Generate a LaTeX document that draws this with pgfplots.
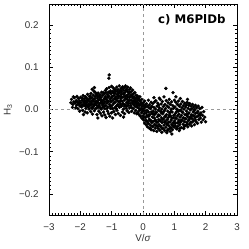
\documentclass[border=0pt]{standalone}
\usepackage{pgfplots}
\pgfplotsset{compat=1.18}
\usepackage{fontspec}
\setmainfont{Liberation Sans}
\newfontfamily\titlefont{DejaVu Sans}
\begin{document}
\begin{tikzpicture}
\begin{axis}[
  name=ax,
  scale only axis, width=188pt, height=211pt,
  xmin=-3, xmax=3, ymin=-0.25, ymax=0.25,
  xtick={-3,-2,-1,0,1,2,3},
  xticklabels={−3,−2,−1,0,1,2,3},
  ytick={-0.2,-0.1,0,0.1,0.2},
  yticklabels={−0.2,−0.1,0.0,0.1,0.2},
  minor x tick num=9, minor y tick num=9,
  major tick length=4pt, minor tick length=2pt,
  tick style={black, line width=0.5pt},
  axis line style={black, line width=0.8pt},
  tick label style={font=\fontsize{9.8}{10}\selectfont, text=black!80},
  xticklabel style={yshift=-5pt},
  yticklabel style={xshift=-7pt},
  xlabel={V/\textit{σ}}, ylabel={H\textsubscript{3}},
  label style={font=\fontsize{9.8}{10}\selectfont, text=black!80},
  xlabel style={at={(axis description cs:0.5,-0.109)}, anchor=center},
  ylabel style={at={(axis description cs:-0.218,0.5)}, anchor=center},
  clip=true,
]
\addplot[gray!80, dashed, line width=0.6pt] coordinates {(-3,0) (3,0)};
\addplot[gray!80, dashed, line width=0.6pt] coordinates {(0,-0.25) (0,0.25)};
\addplot[only marks, mark=*, mark size=1.5pt, black] coordinates {
(-2.28,0.024) (-2.24,0.012) (-2.21,0.018) (-2.25,0.005) (-2.30,0.016) (-2.22,0.030)
(-2.19,0.028) (-2.17,0.015) (-2.15,0.004) (-2.13,0.021) (-2.12,0.010) (-2.11,0.031)
(-2.09,0.017) (-2.08,0.002) (-2.06,0.026) (-2.05,0.012) (-2.03,0.020) (-2.02,-0.004) (-2.01,0.008)
(-1.99,0.029) (-1.98,0.016) (-1.96,0.006) (-1.95,0.022) (-1.93,0.011) (-1.92,-0.002) (-1.91,0.033) (-1.90,0.018)
(-1.89,0.009) (-1.88,0.025) (-1.86,0.014) (-1.85,-0.006) (-1.84,0.030) (-1.83,0.020) (-1.82,0.003) (-1.81,0.012) (-1.80,0.027)
(-1.79,0.017) (-1.78,-0.008) (-1.77,0.036) (-1.76,0.008) (-1.75,0.024) (-1.73,0.013) (-1.72,0.001) (-1.71,0.031) (-1.70,0.019)
(-1.69,0.010) (-1.68,0.026) (-1.67,-0.005) (-1.66,0.038) (-1.65,0.016) (-1.64,0.004) (-1.63,0.028) (-1.62,0.021) (-1.61,-0.011) (-1.60,0.012)
(-1.59,0.034) (-1.58,0.007) (-1.57,0.019) (-1.56,0.043) (-1.55,-0.003) (-1.54,0.025) (-1.53,0.014) (-1.52,0.031) (-1.51,0.002) (-1.50,0.020)
(-1.49,0.036) (-1.48,0.010) (-1.47,-0.012) (-1.46,0.027) (-1.45,0.017) (-1.44,0.005) (-1.43,0.039) (-1.42,0.022) (-1.41,-0.004) (-1.40,0.013) (-1.40,0.030)
(-1.39,0.008) (-1.38,0.024) (-1.37,0.035) (-1.36,-0.009) (-1.35,0.016) (-1.34,0.028) (-1.33,0.001) (-1.32,0.041) (-1.31,0.019) (-1.31,-0.015) (-1.30,0.011)
(-1.29,0.033) (-1.28,0.006) (-1.27,0.022) (-1.26,-0.006) (-1.25,0.014) (-1.24,0.037) (-1.23,0.026) (-1.22,-0.013) (-1.22,0.002) (-1.21,0.018) (-1.20,0.045) (-1.20,0.030)
(-1.19,0.009) (-1.18,-0.019) (-1.17,0.024) (-1.16,0.049) (-1.15,0.015) (-1.14,0.035) (-1.13,-0.004) (-1.12,0.029) (-1.12,0.006) (-1.11,0.041) (-1.10,0.019) (-1.10,-0.010)
(-1.08,0.082) (-1.09,0.074) (-1.62,0.048) (-1.55,0.052) (-1.44,-0.020) (-1.90,-0.012) (-0.62,-0.018)
(-1.09,0.032) (-1.08,0.052) (-1.07,0.012) (-1.06,-0.016) (-1.05,0.025) (-1.04,0.044) (-1.03,0.003) (-1.02,0.037) (-1.02,0.018) (-1.01,-0.008) (-1.00,0.055) (-1.00,0.028)
(-0.99,0.009) (-0.98,0.042) (-0.97,-0.020) (-0.96,0.022) (-0.95,0.051) (-0.94,0.014) (-0.93,0.033) (-0.93,-0.005) (-0.92,0.046) (-0.91,0.026) (-0.90,0.004) (-0.90,0.038)
(-0.89,0.017) (-0.88,-0.012) (-0.87,0.043) (-0.86,0.030) (-0.85,0.008) (-0.84,0.053) (-0.83,0.021) (-0.83,-0.002) (-0.82,0.036) (-0.81,0.012) (-0.80,0.047) (-0.80,0.027)
(-0.79,-0.009) (-0.78,0.039) (-0.77,0.018) (-0.76,0.056) (-0.75,0.005) (-0.74,0.031) (-0.73,0.045) (-0.73,0.013) (-0.72,-0.014) (-0.71,0.025) (-0.70,0.050) (-0.70,0.036)
(-0.69,0.008) (-0.68,0.042) (-0.67,0.020) (-0.66,-0.006) (-0.65,0.054) (-0.64,0.029) (-0.63,0.014) (-0.63,0.046) (-0.62,0.001) (-0.61,0.035) (-0.60,0.022) (-0.60,0.052)
(-0.59,-0.010) (-0.58,0.040) (-0.57,0.011) (-0.56,0.056) (-0.55,0.026) (-0.54,0.003) (-0.53,0.048) (-0.53,0.033) (-0.52,0.017) (-0.51,-0.003) (-0.50,0.043) (-0.50,0.024)
(-0.49,0.053) (-0.48,0.009) (-0.47,0.036) (-0.46,0.020) (-0.45,-0.007) (-0.44,0.047) (-0.43,0.028) (-0.43,0.004) (-0.42,0.040) (-0.41,0.015) (-0.40,0.051) (-0.40,0.031)
(-0.39,0.010) (-0.38,0.042) (-0.37,0.022) (-0.36,-0.004) (-0.35,0.035) (-0.34,0.016) (-0.33,0.046) (-0.32,0.027) (-0.31,0.002) (-0.30,0.038) (-0.30,0.012)
(-0.29,0.030) (-0.28,-0.008) (-0.27,0.019) (-0.26,0.040) (-0.25,0.007) (-0.24,0.025) (-0.23,-0.002) (-0.22,0.034) (-0.21,0.014) (-0.20,0.028) (-0.20,-0.010)
(-0.19,0.020) (-0.18,0.005) (-0.17,0.032) (-0.16,-0.006) (-0.15,0.015) (-0.14,0.026) (-0.13,-0.012) (-0.12,0.009) (-0.11,0.022) (-0.10,-0.002) (-0.10,0.030)
(-0.09,0.012) (-0.08,-0.016) (-0.07,0.018) (-0.06,0.002) (-0.05,-0.008) (-0.04,0.024) (-0.03,0.007) (-0.03,-0.021) (-0.02,0.014) (-0.01,-0.004) (0.00,0.010) (0.00,-0.015)
(0.01,0.016) (0.02,-0.025) (0.03,0.003) (0.04,-0.010) (0.05,0.020) (0.05,-0.032) (0.06,-0.003) (0.07,0.011) (0.08,-0.019) (0.09,0.006) (0.10,-0.036) (0.10,-0.008)
(0.11,0.014) (0.12,-0.027) (0.13,-0.002) (0.14,-0.041) (0.15,0.008) (0.16,-0.016) (0.17,0.022) (0.17,-0.033) (0.18,-0.006) (0.19,0.004) (0.20,-0.023) (0.20,-0.044)
(0.21,0.011) (0.22,-0.012) (0.23,-0.037) (0.24,0.002) (0.25,-0.026) (0.26,0.017) (0.26,-0.048) (0.27,-0.006) (0.28,-0.031) (0.29,0.007) (0.30,-0.018) (0.30,-0.040)
(0.31,0.014) (0.32,-0.028) (0.33,-0.004) (0.34,-0.050) (0.35,0.005) (0.36,-0.020) (0.37,-0.035) (0.37,0.018) (0.38,-0.011) (0.39,-0.044) (0.40,0.001) (0.40,-0.025)
(0.41,0.021) (0.42,-0.038) (0.43,-0.007) (0.44,-0.052) (0.45,0.008) (0.46,-0.017) (0.47,-0.030) (0.47,0.015) (0.48,-0.045) (0.49,-0.002) (0.50,-0.024) (0.50,0.011)
(0.51,-0.036) (0.52,0.004) (0.53,-0.014) (0.54,-0.049) (0.55,0.024) (0.56,-0.027) (0.57,-0.005) (0.57,-0.040) (0.58,0.013) (0.59,-0.020) (0.60,-0.054) (0.60,0.001)
(0.61,-0.031) (0.62,0.019) (0.63,-0.010) (0.64,-0.045) (0.65,0.007) (0.66,-0.022) (0.67,-0.037) (0.67,0.030) (0.68,-0.003) (0.69,-0.050) (0.70,-0.016) (0.70,0.012)
(0.71,-0.028) (0.72,0.002) (0.73,-0.042) (0.74,0.021) (0.75,-0.012) (0.76,-0.055) (0.77,-0.024) (0.77,0.008) (0.78,-0.036) (0.79,-0.004) (0.80,0.016) (0.80,-0.047)
(0.73,0.050) (0.35,0.028) (0.52,0.027) (1.05,0.030) (1.42,0.024) (0.92,-0.058) (1.16,-0.050)
(0.81,-0.019) (0.82,0.005) (0.83,-0.039) (0.84,0.024) (0.85,-0.008) (0.86,-0.030) (0.87,-0.052) (0.87,0.012) (0.88,-0.015) (0.89,-0.043) (0.90,0.001) (0.90,-0.025)
(0.91,0.018) (0.92,-0.035) (0.93,-0.006) (0.94,-0.048) (0.95,0.009) (0.96,0.040) (0.96,-0.020) (0.97,-0.031) (0.98,0.003) (0.99,-0.042) (1.00,-0.013) (1.00,0.022)
(1.01,-0.027) (1.02,0.006) (1.03,-0.039) (1.04,-0.009) (1.05,0.017) (1.06,-0.021) (1.07,-0.046) (1.08,0.001) (1.09,-0.032) (1.10,0.012) (1.10,-0.015)
(1.11,-0.040) (1.12,-0.004) (1.13,0.020) (1.14,-0.025) (1.15,-0.011) (1.16,0.008) (1.17,-0.036) (1.18,-0.018) (1.19,0.026) (1.20,-0.002) (1.20,-0.030)
(1.21,0.013) (1.22,-0.043) (1.23,-0.014) (1.24,0.004) (1.25,-0.026) (1.26,0.019) (1.27,-0.007) (1.28,-0.035) (1.29,0.009) (1.30,-0.020) (1.30,-0.045)
(1.31,0.001) (1.32,-0.029) (1.33,0.015) (1.34,-0.012) (1.35,-0.038) (1.36,0.006) (1.37,-0.022) (1.38,0.011) (1.39,-0.004) (1.40,-0.031)
(1.41,0.017) (1.42,-0.016) (1.43,-0.041) (1.44,0.003) (1.45,-0.026) (1.46,0.010) (1.47,-0.008) (1.48,-0.035) (1.49,0.014) (1.50,-0.019)
(1.51,-0.001) (1.52,-0.030) (1.53,0.008) (1.54,-0.013) (1.55,-0.039) (1.56,0.002) (1.57,-0.022) (1.58,0.012) (1.60,-0.006)
(1.61,-0.027) (1.62,0.006) (1.63,-0.015) (1.64,-0.036) (1.65,0.000) (1.66,-0.020) (1.67,0.010) (1.68,-0.009) (1.70,-0.030)
(1.71,0.004) (1.72,-0.017) (1.74,-0.033) (1.75,-0.004) (1.76,0.008) (1.78,-0.024) (1.80,-0.011)
(1.81,0.002) (1.83,-0.020) (1.85,-0.008) (1.86,-0.030) (1.88,0.005) (1.90,-0.014)
(1.92,-0.024) (1.94,-0.005) (1.97,-0.018) (2.00,-0.029)
(-2.14,0.019) (-2.04,0.015) (-1.97,0.010) (-1.94,0.027) (-1.87,0.019) (-1.83,0.008) (-1.77,0.022) (-1.74,0.006) (-1.69,0.032) (-1.66,0.012)
(-1.62,0.003) (-1.58,0.024) (-1.55,0.010) (-1.52,0.040) (-1.48,0.018) (-1.45,0.033) (-1.42,0.008) (-1.38,0.030) (-1.35,0.003) (-1.33,0.022)
(-1.29,0.015) (-1.27,0.040) (-1.24,0.008) (-1.21,0.027) (-1.18,0.040) (-1.15,0.002) (-1.13,0.020) (-1.11,0.030) (-1.07,0.040) (-1.05,0.008)
(-1.03,0.020) (-0.99,0.031) (-0.97,0.002) (-0.95,0.040) (-0.92,0.016) (-0.89,0.048) (-0.87,0.025) (-0.85,0.002) (-0.82,0.043) (-0.79,0.032)
(-0.77,0.008) (-0.75,0.040) (-0.72,0.020) (-0.69,0.030) (-0.67,0.050) (-0.65,0.013) (-0.62,0.038) (-0.60,0.008) (-0.57,0.030) (-0.55,0.045)
(-0.52,0.008) (-0.49,0.030) (-0.47,0.014) (-0.45,0.040) (-0.42,0.022) (-0.39,0.033) (-0.37,0.005) (-0.34,0.030) (-0.31,0.020) (-0.28,0.012)
(-0.26,0.025) (-0.23,0.018) (-0.19,0.010) (-0.16,0.023) (-0.13,0.003) (-0.09,0.000) (-0.06,0.013) (-0.02,0.000)
(0.03,-0.018) (0.06,0.008) (0.09,-0.026) (0.13,-0.014) (0.15,-0.030) (0.19,-0.015) (0.22,-0.026) (0.24,-0.045) (0.27,0.006) (0.29,-0.010)
(0.32,-0.040) (0.35,-0.012) (0.38,-0.026) (0.41,-0.008) (0.43,-0.030) (0.46,-0.040) (0.49,-0.013) (0.52,-0.026) (0.55,-0.040) (0.58,-0.008)
(0.61,-0.045) (0.63,-0.024) (0.66,-0.005) (0.69,-0.030) (0.72,-0.017) (0.75,-0.034) (0.78,-0.050) (0.81,-0.030) (0.84,-0.014) (0.86,-0.045)
(0.89,-0.005) (0.92,-0.020) (0.95,-0.038) (0.98,-0.014) (1.02,-0.033) (1.04,-0.020) (1.07,-0.005) (1.09,-0.045) (1.13,-0.030) (1.15,-0.002)
(1.18,-0.045) (1.22,-0.025) (1.25,-0.006) (1.28,-0.020) (1.32,-0.040) (1.35,-0.022) (1.38,-0.012) (1.41,-0.035) (1.44,-0.010) (1.47,-0.023)
(1.52,-0.018) (1.56,-0.030) (1.59,-0.014) (1.63,-0.003) (1.67,-0.025) (1.73,-0.008) (1.77,-0.015) (1.84,-0.013)
};
\node[anchor=north east, inner sep=0pt, font=\titlefont\bfseries\fontsize{11.8}{12}\selectfont] at (rel axis cs:0.94,0.953) {c) M6PlDb};
\end{axis}
\path (ax.south west) ++(-49pt,-34pt) coordinate (bbsw);
\path (ax.north east) ++(12pt,4pt) coordinate (bbne);
\useasboundingbox (bbsw) rectangle (bbne);
\end{tikzpicture}
\end{document}
